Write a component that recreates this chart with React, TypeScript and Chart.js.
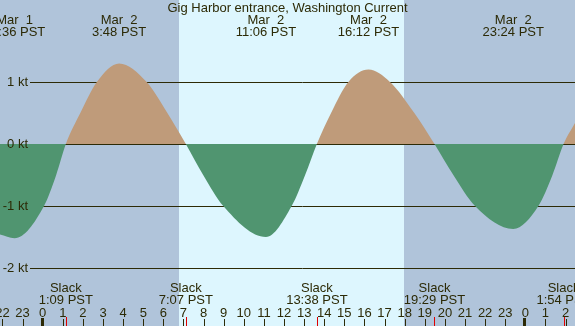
import React, { useEffect, useRef } from "react";
import { Chart, registerables } from "chart.js";

Chart.register(...registerables);

const title = "Gig Harbor entrance, Washington Current";

// hours since Mar 2 00:00 PST, current speed in knots (flood +, ebb -)
const curveHours = [
  -2.124, -1.4, 0.065, 0.67, 1.15, 1.87, 2.69, 3.8, 5.17, 6.2, 7.117, 7.98, 8.98,
  11.1, 12.38, 13.05, 13.633, 14.34, 15.2, 16.2, 17.27, 18.48, 19.483, 20.42,
  21.5, 23.4, 24.65, 25.35, 25.9, 26.47,
];
const curveKnots = [
  -1.46, -1.52, -1.0, -0.5, 0, 0.5, 1.0, 1.3, 1.0, 0.5, 0, -0.5, -1.0,
  -1.5, -1.0, -0.5, 0, 0.5, 1.0, 1.2, 1.0, 0.5, 0, -0.5,
  -1.0, -1.37, -1.0, -0.5, 0, 0.34,
];

const extremeHours = [-1.4, 3.8, 11.1, 16.2, 23.4];
const extremeDates = ["Mar  1", "Mar  2", "Mar  2", "Mar  2", "Mar  2"];
const extremeTimes = ["22:36 PST", "3:48 PST", "11:06 PST", "16:12 PST", "23:24 PST"];

const slackHours = [1.15, 7.117, 13.633, 19.483, 25.9];
const slackTimes = ["1:09 PST", "7:07 PST", "13:38 PST", "19:29 PST", "1:54 PST"];

const hourTicks = [
  -2, -1, 0, 1, 2, 3, 4, 5, 6, 7, 8, 9, 10, 11, 12, 13, 14, 15, 16, 17, 18, 19,
  20, 21, 22, 23, 24, 25, 26,
];
const hourLabels = [
  "22", "23", "0", "1", "2", "3", "4", "5", "6", "7", "8", "9", "10", "11", "12",
  "13", "14", "15", "16", "17", "18", "19", "20", "21", "22", "23", "0", "1", "2",
];
const midnightHours = [0, 24];

const knotTicks = [1, 0, -1, -2];
const knotLabels = ["1 kt", "0 kt", "-1 kt", "-2 kt"];

const sunriseHour = 6.78;
const sunsetHour = 17.97;

const X_MIN = -2.124;
const X_MAX = 26.47;
const Y_MIN = -2.9355;
const Y_MAX = 2.3226;

const NIGHT = "#b0c4da";
const DAY = "#ddf6fe";
const FLOOD = "#bf9b7a";
const EBB = "#509570";
const INK = "#2c2a06";
const FONT = "13px 'Liberation Sans', Arial, sans-serif";

const tidePlugin = {
  id: "tidePlugin",
  beforeDraw(chart: any) {
    const { ctx, width, height } = chart;
    const xs = chart.scales.x;
    ctx.save();
    ctx.fillStyle = NIGHT;
    ctx.fillRect(0, 0, width, height);
    const a = Math.round(xs.getPixelForValue(sunriseHour));
    const b = Math.round(xs.getPixelForValue(sunsetHour));
    ctx.fillStyle = DAY;
    ctx.fillRect(a, 0, b - a, height);
    ctx.restore();
  },
  beforeDatasetsDraw(chart: any) {
    const { ctx, width } = chart;
    const ys = chart.scales.y;
    ctx.save();
    ctx.strokeStyle = INK;
    ctx.lineWidth = 1;
    knotTicks.forEach((k) => {
      const y = Math.round(ys.getPixelForValue(k)) + 0.5;
      ctx.beginPath();
      ctx.moveTo(30, y);
      ctx.lineTo(width, y);
      ctx.stroke();
    });
    ctx.restore();
  },
  afterDatasetsDraw(chart: any) {
    const { ctx, width, height } = chart;
    const xs = chart.scales.x;
    const ys = chart.scales.y;
    ctx.save();
    ctx.font = FONT;
    ctx.fillStyle = INK;
    ctx.textBaseline = "middle";

    // title
    ctx.textAlign = "center";
    ctx.fillText(title, 287.5, 8);

    // extremes at top
    extremeHours.forEach((h, i) => {
      const x = xs.getPixelForValue(h);
      ctx.fillText(extremeDates[i], x, 20);
      ctx.fillText(extremeTimes[i], x, 32);
    });

    // slack labels at bottom
    slackHours.forEach((h, i) => {
      const x = xs.getPixelForValue(h);
      ctx.fillText("Slack", x, 288);
      ctx.fillText(slackTimes[i], x, 300);
    });

    // hour labels
    hourTicks.forEach((h, i) => {
      const x = xs.getPixelForValue(h);
      ctx.fillText(hourLabels[i], x, 313);
    });

    // knot labels
    ctx.textAlign = "right";
    knotTicks.forEach((k, i) => {
      const y = ys.getPixelForValue(k);
      ctx.fillText(knotLabels[i], 28, y + 0.5);
    });

    // hour ticks
    hourTicks.forEach((h) => {
      const x = Math.round(xs.getPixelForValue(h));
      if (midnightHours.includes(h)) {
        ctx.fillRect(x - 2, 318, 3, height - 318);
      } else {
        ctx.fillRect(x, 319, 1, height - 319);
      }
    });

    // slack ticks
    ctx.fillStyle = "#e00000";
    slackHours.forEach((h) => {
      const x = Math.round(xs.getPixelForValue(h));
      ctx.fillRect(x, 317, 1, height - 317);
    });
    ctx.restore();
  },
};

export default function App() {
  const ref = useRef<HTMLCanvasElement | null>(null);

  useEffect(() => {
    document.body.style.margin = "0";
    const canvas = ref.current;
    if (!canvas) return;
    const points = curveHours.map((h, i) => ({ x: h, y: curveKnots[i] }));
    const chart = new Chart(canvas, {
      type: "line",
      data: {
        datasets: [
          {
            data: points,
            borderColor: "rgba(0,0,0,0)",
            borderWidth: 0,
            pointRadius: 0,
            cubicInterpolationMode: "monotone",
            fill: { target: { value: 0 }, above: FLOOD, below: EBB },
          } as any,
        ],
      },
      options: {
        responsive: false,
        animation: false,
        layout: { padding: 0 },
        plugins: {
          legend: { display: false },
          tooltip: { enabled: false },
          title: { display: false },
        },
        scales: {
          x: { type: "linear", min: X_MIN, max: X_MAX, display: false },
          y: { type: "linear", min: Y_MIN, max: Y_MAX, display: false },
        },
      },
      plugins: [tidePlugin],
    });
    return () => chart.destroy();
  }, []);

  return (
    <div style={{ position: "absolute", left: 0, top: 0, width: 575, height: 326 }}>
      <canvas ref={ref} width={575} height={326} style={{ display: "block" }} />
    </div>
  );
}
